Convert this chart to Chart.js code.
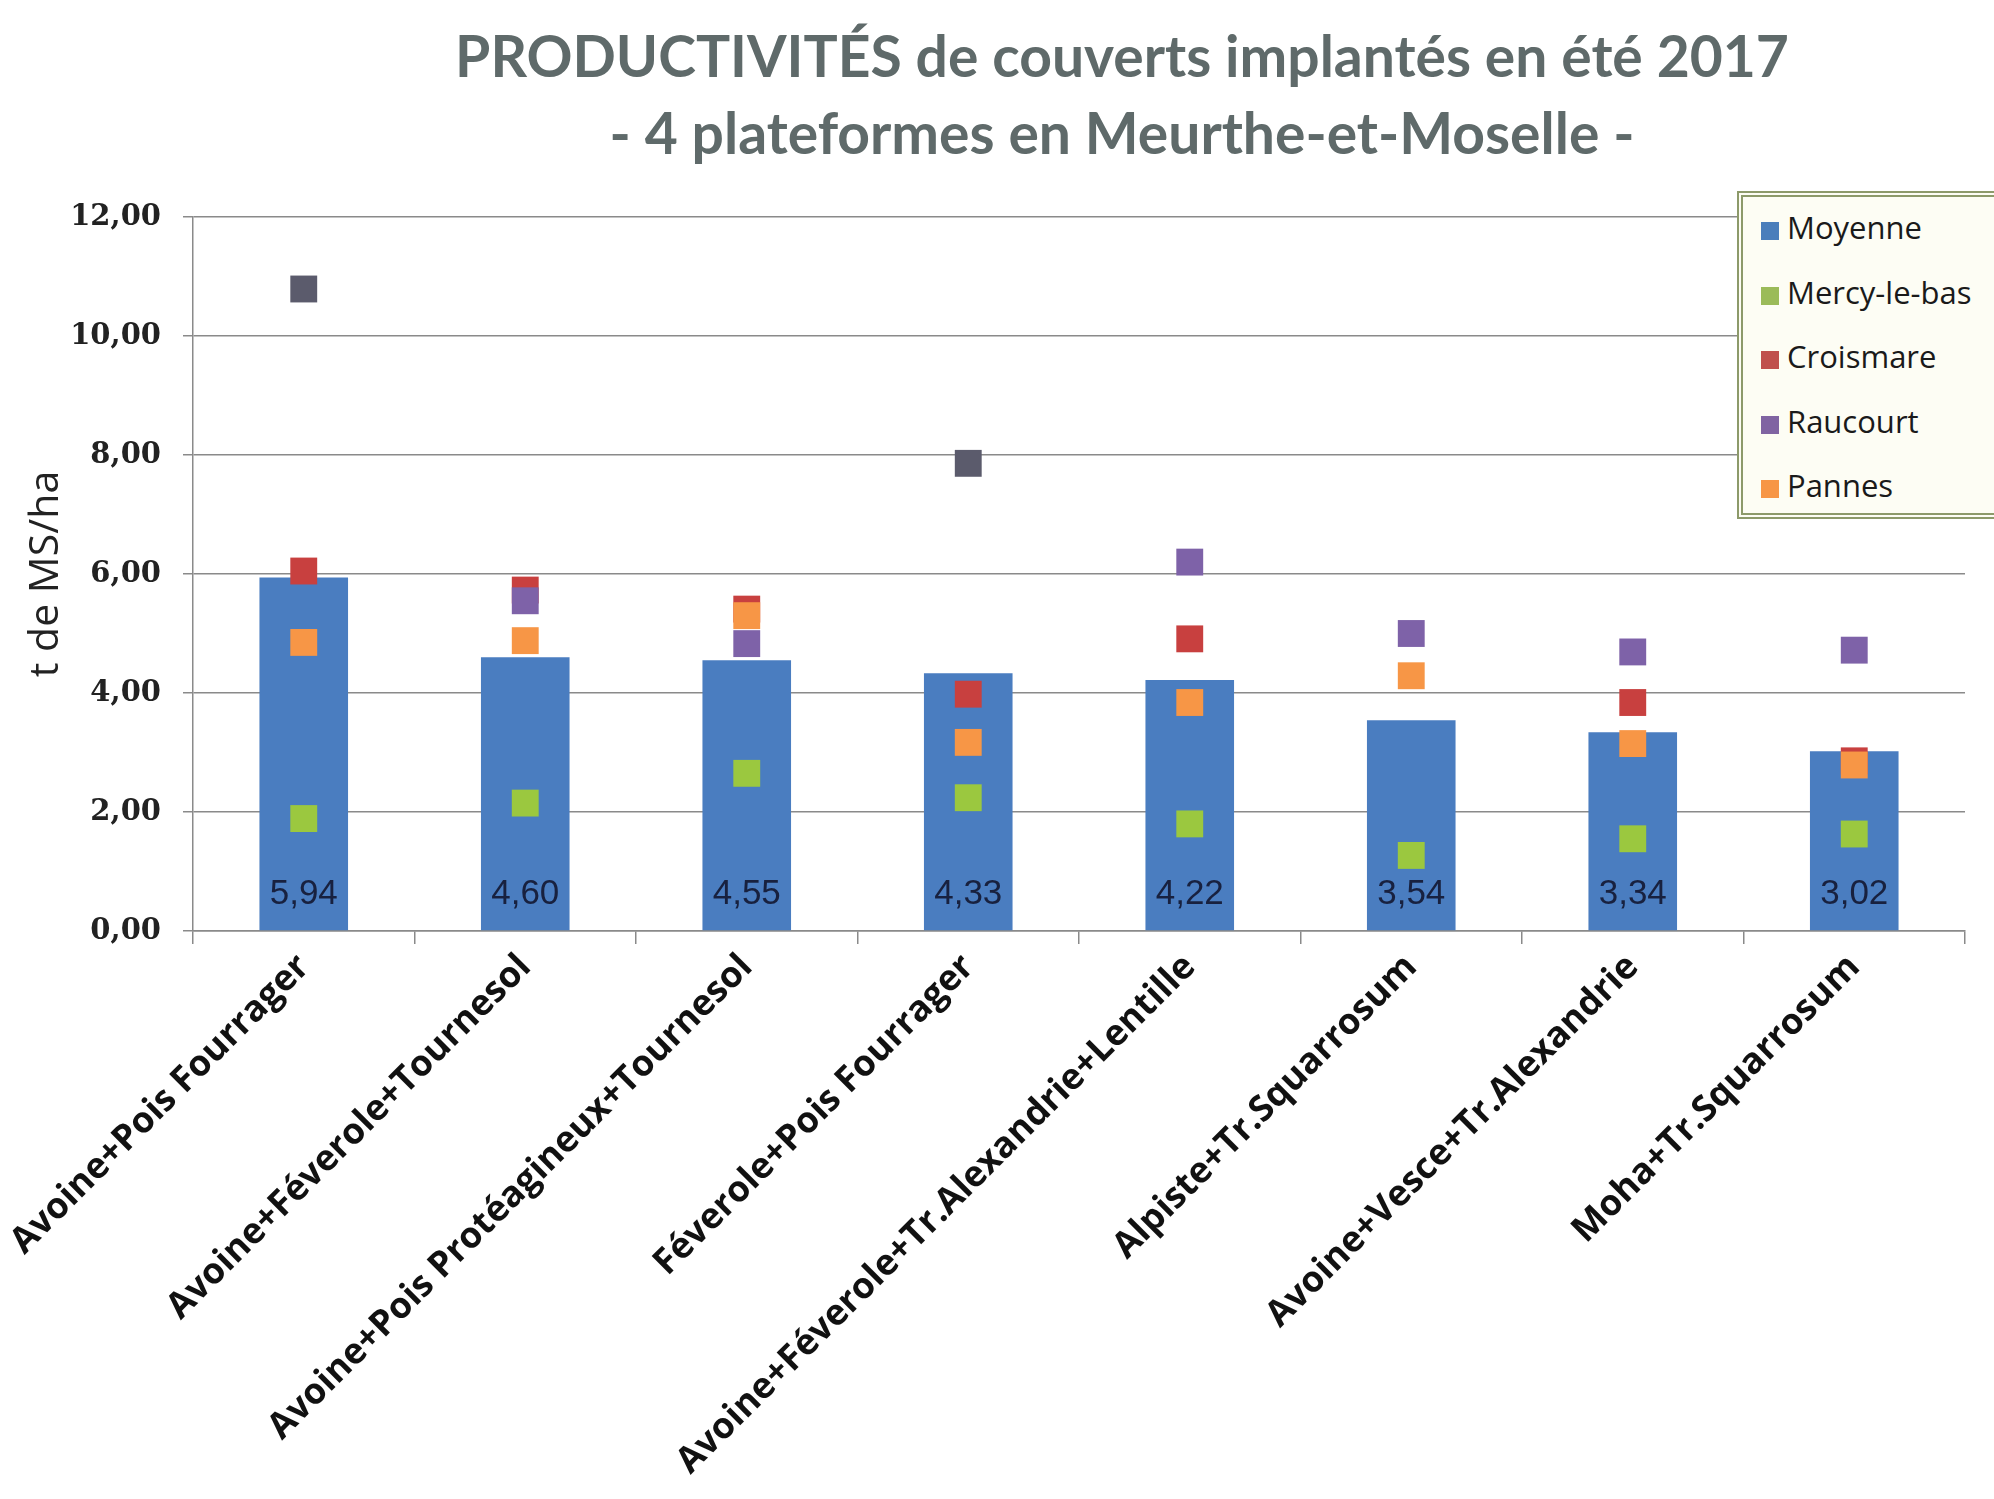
<!DOCTYPE html>
<html>
<head>
<meta charset="utf-8">
<script src="https://cdn.jsdelivr.net/npm/chart.js@4.4.0/dist/chart.umd.min.js"></script>
<style>
  body { margin: 0; background: #fff; }
  #wrap { position: relative; width: 1994px; height: 1499px; overflow: hidden; }
  #title { position: absolute; left: 0; top: 17px; width: 2244px; text-align: center;
           font: bold 57px Lato, sans-serif; color: #5f6a6a; line-height: 77px; }
  #legend { position: absolute; left: 1737px; top: 191px; width: 320px; height: 328px;
            box-sizing: border-box; border: 6px double #8d9a6a; background: #fdfdf4; }
  #legend .item { position: absolute; left: 18px; height: 40px; line-height: 40px;
                  font: 31px "Open Sans", sans-serif; color: #1a1a1a; white-space: nowrap; }
  #legend .sw { display: inline-block; width: 18px; height: 18px; margin-right: 8px; vertical-align: -1px; }
</style>
</head>
<body>
<div id="wrap">
  <canvas id="chart" width="1994" height="1499"></canvas>
  <div id="title">PRODUCTIVITÉS de couverts implantés en été 2017<br>- 4 plateformes en Meurthe-et-Moselle -</div>
  <div id="legend"></div>
</div>
<script>
// --- Data ---
const categories = [
  'Avoine+Pois Fourrager',
  'Avoine+Féverole+Tournesol',
  'Avoine+Pois Protéagineux+Tournesol',
  'Féverole+Pois Fourrager',
  'Avoine+Féverole+Tr.Alexandrie+Lentille',
  'Alpiste+Tr.Squarrosum',
  'Avoine+Vesce+Tr.Alexandrie',
  'Moha+Tr.Squarrosum'
];
const moyenne   = [5.94, 4.60, 4.55, 4.33, 4.22, 3.54, 3.34, 3.02];
const mercy     = [1.89, 2.15, 2.65, 2.24, 1.80, 1.27, 1.55, 1.63];
const croismare = [6.05, 5.73, 5.41, 3.98, 4.91, null, 3.84, 2.86];
const raucourt  = [10.79, 5.55, 4.83, 7.86, 6.20, 5.00, 4.69, 4.72];
const pannes    = [4.85, 4.88, 5.30, 3.17, 3.84, 4.29, 3.15, 2.79];
const yTicks    = [0, 2, 4, 6, 8, 10, 12];

// two Raucourt points stand out in a darker grey in the original
const raucourtColors = raucourt.map((v, i) => (i === 0 || i === 3) ? '#5b5b6c' : '#7e62a8');

const fmt = v => v.toFixed(2).replace('.', ',');
const GRID = '#8a8a8a';

// --- Value labels inside the bars ---
const valueLabels = {
  id: 'valueLabels',
  afterDatasetsDraw(chart) {
    const ctx = chart.ctx;
    const meta = chart.getDatasetMeta(0);
    const y0 = chart.scales.y.getPixelForValue(0);
    ctx.save();
    ctx.font = '35px "Liberation Sans Narrow", "Liberation Sans", sans-serif';
    ctx.fillStyle = '#18213f';
    ctx.textAlign = 'center';
    ctx.textBaseline = 'middle';
    meta.data.forEach((bar, i) => ctx.fillText(fmt(moyenne[i]), bar.x, y0 - 37));
    ctx.restore();
  }
};

const pointSet = (label, data, color, order) => ({
  type: 'line', label, data, order,
  showLine: false,
  pointStyle: 'rect',
  pointRadius: 19,
  pointBackgroundColor: color,
  pointBorderWidth: 0,
  backgroundColor: Array.isArray(color) ? '#7e62a8' : color,
  borderColor: 'transparent'
});

const chart = new Chart(document.getElementById('chart'), {
  type: 'bar',
  data: {
    labels: categories,
    datasets: [
      { type: 'bar', label: 'Moyenne', data: moyenne, order: 5,
        backgroundColor: '#4a7dc0', barPercentage: 0.4, categoryPercentage: 1 },
      pointSet('Mercy-le-bas', mercy, '#9bc83f', 4),
      pointSet('Croismare', croismare, '#c8403f', 3),
      pointSet('Raucourt', raucourt, raucourtColors, 2),
      pointSet('Pannes', pannes, '#f79646', 1)
    ]
  },
  options: {
    responsive: false,
    animation: false,
    layout: { padding: { top: 217, right: 29, left: 0, bottom: 0 } },
    plugins: { legend: { display: false }, tooltip: { enabled: false } },
    scales: {
      x: {
        ticks: { minRotation: 45, maxRotation: 45, autoSkip: false, padding: 2,
                 font: { family: 'Open Sans', weight: 'bold', size: 36 }, color: '#111' },
        grid: { drawOnChartArea: false, offset: true, color: GRID, lineWidth: 1.5, tickLength: 13 },
        border: { display: true, color: GRID, width: 1.5 },
        afterFit(s) { s.height = 568; }
      },
      y: {
        min: 0, max: 12,
        afterBuildTicks(s) { s.ticks = yTicks.map(v => ({ value: v })); },
        ticks: { callback: v => fmt(v), padding: 22,
                 font: { family: 'DejaVu Serif', weight: 'bold', size: 29 }, color: '#222' },
        grid: { color: GRID, lineWidth: 1.5, tickLength: 10 },
        border: { display: true, color: GRID, width: 1.5 },
        title: { display: true, text: 't de MS/ha', color: '#222',
                 font: { family: 'Open Sans', size: 41 }, padding: { top: 22, bottom: 0 } },
        afterFit(s) { s.width = 193; }
      }
    }
  },
  plugins: [valueLabels]
});

// --- HTML legend, built from the datasets ---
const legendEl = document.getElementById('legend');
const legendColors = ['#4a7ebb', '#9bbb59', '#c0504d', '#8064a2', '#f79646'];
chart.data.datasets.forEach((ds, i) => {
  const it = document.createElement('div');
  it.className = 'item';
  it.style.top = (9 + i * 64.5) + 'px';
  it.innerHTML = `<span class="sw" style="background:${legendColors[i]}"></span>${ds.label}`;
  legendEl.appendChild(it);
});
</script>
</body>
</html>
